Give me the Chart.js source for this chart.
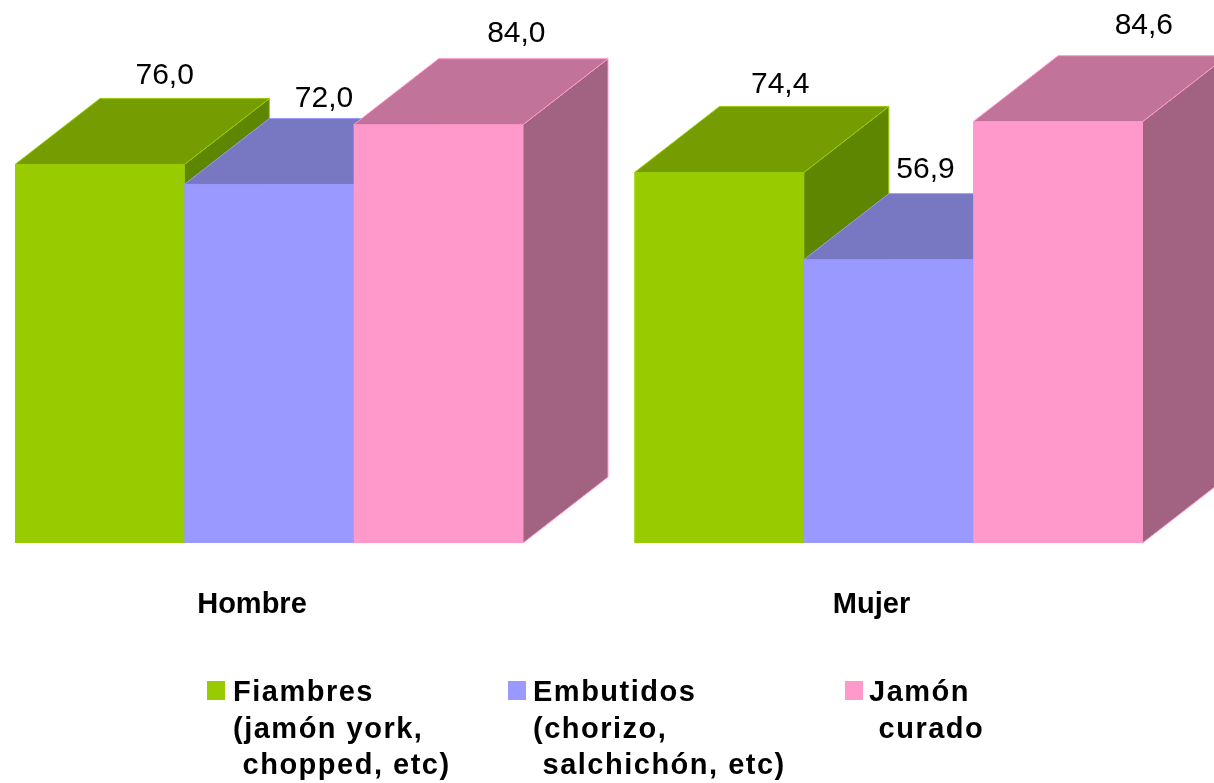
<!DOCTYPE html>
<html>
<head>
<meta charset="utf-8">
<script src="https://cdn.jsdelivr.net/npm/chart.js@4/dist/chart.umd.min.js"></script>
<style>
  html, body { margin: 0; padding: 0; background: #fff; }
  #wrap { position: relative; width: 1214px; height: 783px; overflow: hidden; }
  #chart { position: absolute; left: 0; top: 0; }
  .legend-item { position: absolute; font: bold 29px "Liberation Sans", Arial, sans-serif; letter-spacing: 1.5px; line-height: 36.5px; color: #000; white-space: pre; }
  .legend-box { position: absolute; width: 18px; height: 19px; }
</style>
</head>
<body>
<div id="wrap">
  <canvas id="chart" width="1214" height="783"></canvas>
  <div id="legend"></div>
</div>
<script>
const categories = ['Hombre', 'Mujer'];
const seriesNames = [
    'Fiambres\n(jamón york,\n chopped, etc)',
    'Embutidos\n(chorizo,\n salchichón, etc)',
    'Jamón\n curado'
];
const fiambres = [76.0, 74.4];
const embutidos = [72.0, 56.9];
const jamonCurado = [84.0, 84.6];

// colours: front, top, side
const faceColors = [
    ['#99CC00', '#759C00', '#5F8600'],
    ['#9999FF', '#7777C2', '#5F5FA0'],
    ['#FF99CC', '#C27399', '#A26282']
];

// depth of the 3d boxes
const depthX = 85;
const depthY = -66;

// small hand nudges for value labels [x from bar centre, y above back edge]
const labelNudge = [
    [[65, 15], [61, 13]],
    [[55, 11], [37, 16]],
    [[78, 17], [86, 22]]
];

function fmt(v) {
    return v.toFixed(1).replace('.', ',');
}

// chart.js paints the last dataset first, so repaint the boxes left to right
const box3d = {
    id: 'box3d',
    afterDatasetsDraw(chart) {
        const ctx = chart.ctx;
        chart.data.datasets.forEach((d, ds) => {
            const cols = faceColors[ds];
            chart.getDatasetMeta(ds).data.forEach(bar => {
                const p = bar.getProps(['x', 'y', 'base', 'width'], true);
                const l = p.x - p.width / 2, r = p.x + p.width / 2;
                const t = p.y, b = p.base;
                ctx.save();
                ctx.fillStyle = cols[0];
                ctx.fillRect(l, t, r - l, b - t);
                ctx.lineWidth = 1;
                ctx.strokeStyle = cols[0];
                // side
                ctx.beginPath();
                ctx.moveTo(r, t);
                ctx.lineTo(r + depthX, t + depthY);
                ctx.lineTo(r + depthX, b + depthY);
                ctx.lineTo(r, b);
                ctx.closePath();
                ctx.fillStyle = cols[2];
                ctx.fill();
                ctx.stroke();
                // top
                ctx.beginPath();
                ctx.moveTo(l, t);
                ctx.lineTo(l + depthX, t + depthY);
                ctx.lineTo(r + depthX, t + depthY);
                ctx.lineTo(r, t);
                ctx.closePath();
                ctx.fillStyle = cols[1];
                ctx.fill();
                ctx.stroke();
                ctx.restore();
            });
        });
    },
    afterDraw(chart) {
        const ctx = chart.ctx;
        ctx.save();
        ctx.fillStyle = '#000';
        ctx.textAlign = 'center';
        ctx.textBaseline = 'alphabetic';
        ctx.font = '30px "Liberation Sans", Arial, sans-serif';
        chart.data.datasets.forEach((d, ds) => {
            chart.getDatasetMeta(ds).data.forEach((bar, i) => {
                const n = labelNudge[ds][i];
                ctx.fillText(fmt(d.data[i]), bar.x + n[0], bar.y + depthY - n[1]);
            });
        });
        ctx.font = 'bold 29px "Liberation Sans", Arial, sans-serif';
        const xs = chart.scales.x;
        categories.forEach((c, i) => {
            ctx.fillText(c, xs.getPixelForValue(i) - 17, 613);
        });
        ctx.restore();
    }
};

new Chart(document.getElementById('chart'), {
    type: 'bar',
    data: {
        labels: categories,
        datasets: [
            { label: seriesNames[0], data: fiambres, backgroundColor: faceColors[0][0] },
            { label: seriesNames[1], data: embutidos, backgroundColor: faceColors[1][0] },
            { label: seriesNames[2], data: jamonCurado, backgroundColor: faceColors[2][0] }
        ]
    },
    options: {
        responsive: false,
        animation: false,
        events: [],
        layout: { padding: { left: 269, right: 325.5, top: 45, bottom: 240 } },
        datasets: { bar: { clip: false, categoryPercentage: 0.82, barPercentage: 1, borderWidth: 0 } },
        scales: {
            x: { display: false, offset: false },
            y: { display: false, min: 0, max: 100 }
        },
        plugins: {
            legend: { display: false },
            tooltip: { enabled: false }
        }
    },
    plugins: [box3d]
});

// html legend
const legendPos = [[207, 233], [508, 533], [845, 869]];
const legendEl = document.getElementById('legend');
seriesNames.forEach((name, i) => {
    const sq = document.createElement('div');
    sq.className = 'legend-box';
    sq.style.left = legendPos[i][0] + 'px';
    sq.style.top = '681px';
    sq.style.background = faceColors[i][0];
    legendEl.appendChild(sq);
    const tx = document.createElement('div');
    tx.className = 'legend-item';
    tx.style.left = legendPos[i][1] + 'px';
    tx.style.top = '673px';
    tx.textContent = name;
    legendEl.appendChild(tx);
});
</script>
</body>
</html>
